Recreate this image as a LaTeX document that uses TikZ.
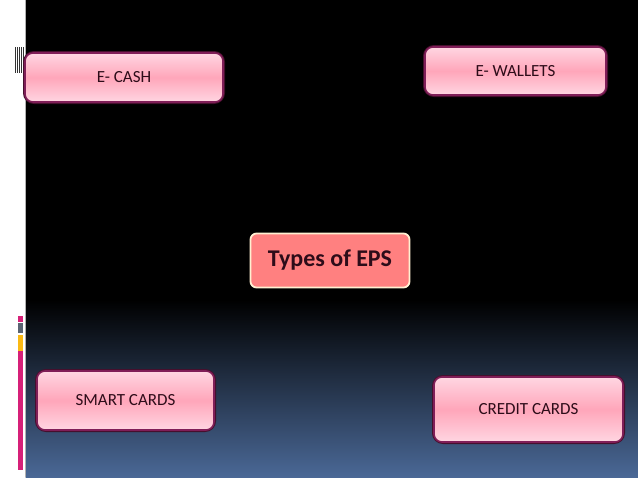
\documentclass[tikz,border=0pt]{standalone}
\usepackage{fontspec}
\setmainfont{Carlito}
\definecolor{bgblue}{RGB}{74,104,150}
\definecolor{pinktop}{RGB}{255,214,226}
\definecolor{pinkmid}{RGB}{255,166,186}
\definecolor{pinkedge}{RGB}{128,30,88}
\definecolor{pinkglow}{RGB}{70,15,45}
\definecolor{salmon}{RGB}{255,128,128}
\definecolor{cream}{RGB}{255,240,210}
\definecolor{txtdark}{RGB}{45,12,25}
\definecolor{magbar}{RGB}{214,32,120}
\definecolor{graybar}{RGB}{90,100,115}
\definecolor{yellbar}{RGB}{250,185,20}
\begin{document}
\begin{tikzpicture}[x=1pt,y=-1pt,
  pinkbox/.style={rounded corners=8pt, draw=pinkedge, line width=1.6pt,
    top color=pinktop, bottom color=pinktop, middle color=pinkmid,
    text=txtdark, font=\fontsize{17}{20}\selectfont, inner sep=0pt},
  glowbox/.style={rounded corners=9pt, draw=pinkglow, line width=4pt, inner sep=0pt},
  mainbox/.style={rounded corners=6pt, draw=cream, line width=1.8pt, fill=salmon,
    text=txtdark, font=\fontsize{24}{28}\selectfont\bfseries, inner sep=0pt}]
\useasboundingbox (0,0) rectangle (638,479);
% background
\fill[white] (0,0) rectangle (638,479);
\fill[black] (25.5,0) rectangle (638,300);
\shade[top color=black, bottom color=bgblue] (25.5,299.5) rectangle (638,477);
\draw[gray!60, line width=0.6pt] (25.3,0) -- (25.3,477);
% left decorations
\foreach \xx in {15.5,17.5,19.5,21.5,23.5}
  \draw[black!80, line width=0.8pt] (\xx,47) -- (\xx,73);
\fill[magbar] (18,316) rectangle (23,322);
\fill[graybar] (18,323) rectangle (23,333);
\fill[yellbar] (18,335) rectangle (23,351);
\fill[magbar] (18,351) rectangle (23,470);
% glows
\foreach \cx/\cy/\w/\h in {124/77.5/198/49, 515.5/71/181/48, 125.5/400.5/177/59, 528.5/409.5/189/65}
  \node[glowbox, minimum width=\w, minimum height=\h] at (\cx,\cy) {};
% boxes
\node[pinkbox, minimum width=198, minimum height=49] (ecash) at (124,77.5) {E- CASH};
\node[pinkbox, minimum width=181, minimum height=48] (ewallets) at (515.5,71) {E- WALLETS};
\node[mainbox, minimum width=159, minimum height=54] (eps) at (330,260.5) {Types of EPS};
\node[pinkbox, minimum width=177, minimum height=59] (smart) at (125.5,400.5) {SMART CARDS};
\node[pinkbox, minimum width=189, minimum height=65] (credit) at (528.5,409.5) {CREDIT CARDS};
\end{tikzpicture}
\end{document}
